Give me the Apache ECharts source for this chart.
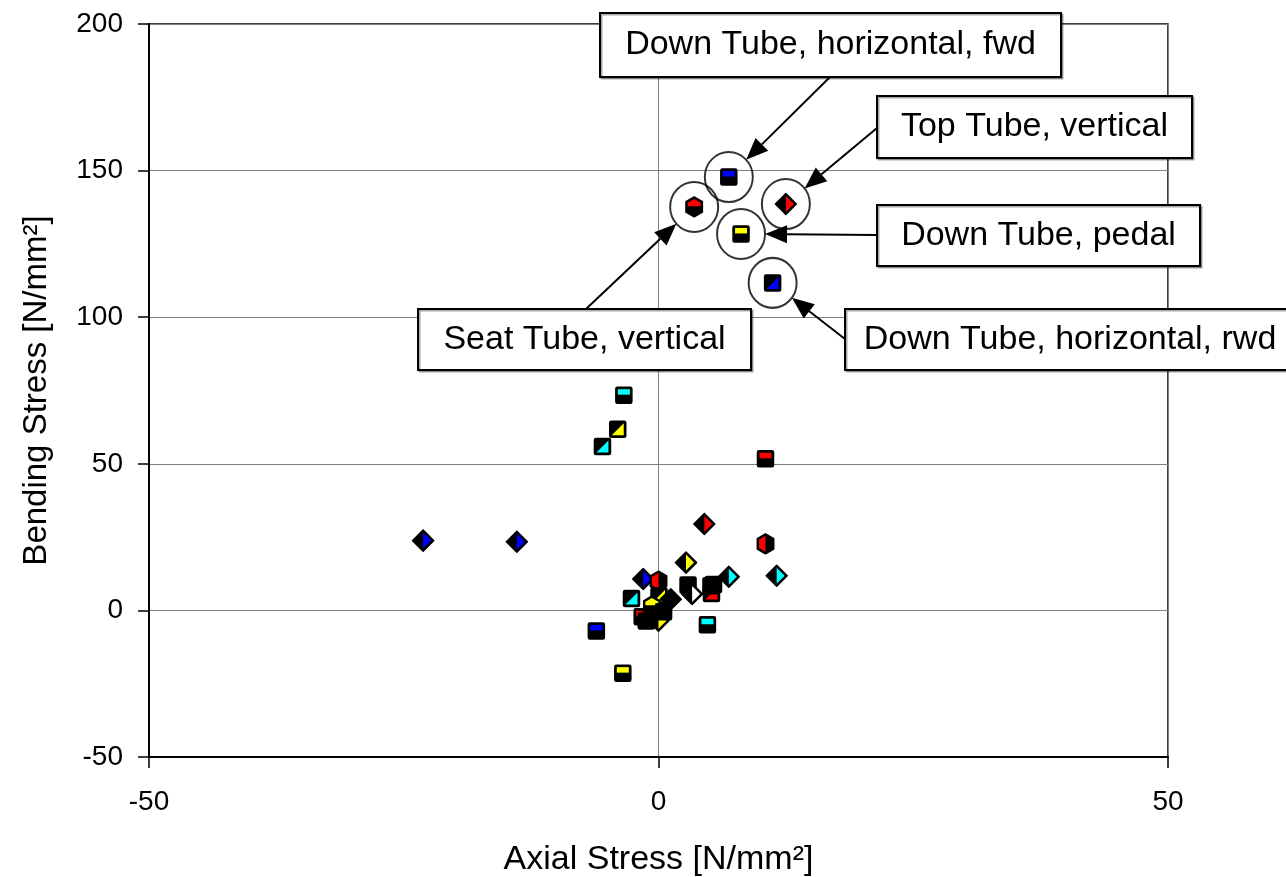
<!DOCTYPE html>
<html>
<head>
<meta charset="utf-8">
<script src="https://cdn.jsdelivr.net/npm/echarts@6/dist/echarts.min.js"></script>
<style>
  html, body { margin: 0; padding: 0; background: #ffffff; }
  #chart { width: 1286px; height: 877px; }
</style>
</head>
<body>
<div id="chart"></div>
<script>
// Strain gauge positions; each one has its own marker shape
const gaugeNames = ['Down Tube A', 'Down Tube B', 'Top Tube', 'Seat Tube A', 'Seat Tube B'];

// Measured stresses per load case: [axial N/mm², bending N/mm², gauge index]
const horizontalLoad = [
  [6.9, 147.8, 0], [11.2, 111.7, 1], [-23.1, 23.8, 2], [-13.9, 23.4, 2],
  [-1.5, 10.7, 2], [-6.1, -7.0, 0], [5.4, 8.8, 1]
];
const verticalLoad = [
  [3.5, 137.6, 3], [12.5, 138.6, 2], [10.5, 51.7, 0], [4.5, 29.5, 2],
  [10.5, 22.7, 4], [0.0, 10.0, 4], [5.2, 5.8, 1], [-1.6, -2.2, 0]
];
const pedalLoad = [
  [8.1, 128.4, 0], [-4.0, 61.8, 1], [2.7, 16.3, 2], [-3.5, -21.4, 0],
  [0.05, 4.9, 1], [-0.65, 1.5, 3], [0.0, -3.5, 2]
];
const lateralLoad = [
  [-3.4, 73.4, 0], [-5.5, 55.9, 1], [6.9, 11.5, 2], [11.6, 11.8, 2],
  [-2.65, 4.1, 1], [4.8, -4.9, 0]
];
const brakeLoad = [
  [2.9, 8.7, 0], [1.2, 3.8, 2], [5.15, 8.4, 0], [0.5, -0.5, 0], [-1.2, -3.6, 0]
];
const torsionLoad = [
  [3.3, 5.6, 2]
];

// Tick values on both axes
const axialTicks = [-50, 0, 50];
const bendingTicks = [-50, 0, 50, 100, 150, 200];

// Highlighted measurements with their callout text
const calloutTexts = [
  'Down Tube, horizontal, fwd',
  'Top Tube, vertical',
  'Down Tube, pedal',
  'Down Tube, horizontal, rwd',
  'Seat Tube, vertical'
];
const calloutPoints = [
  horizontalLoad[0],
  verticalLoad[1],
  pedalLoad[0],
  horizontalLoad[1],
  verticalLoad[0]
];

// ---- drawing -------------------------------------------------------------
const FONT = '"Liberation Sans", Arial, sans-serif';

const squareBase = {
  type: 'rect', shape: { x: -8, y: -8, width: 16, height: 16, r: 1.5 },
  style: { fill: '#000', stroke: '#000', lineWidth: 1.5 }
};
const diamondBase = {
  type: 'polygon', shape: { points: [[0, -10.5], [10.5, 0], [0, 10.5], [-10.5, 0]] },
  style: { fill: '#000', stroke: '#000', lineWidth: 1.5, lineJoin: 'round' }
};
const hexBase = {
  type: 'polygon', shape: { points: [[0, -10], [8.2, -5.2], [8.2, 5.2], [0, 10], [-8.2, 5.2], [-8.2, -5.2]] },
  style: { fill: '#000', stroke: '#000', lineWidth: 1.5, lineJoin: 'round' }
};

function markerParts(gauge, colour) {
  const fill = { fill: colour };
  switch (gauge) {
    case 0: return [squareBase, { type: 'rect', shape: { x: -6, y: -6, width: 12, height: 5.5 }, style: fill }];
    case 1: return [squareBase, { type: 'polygon', shape: { points: [[6, -6], [6, 6], [-6, 6]] }, style: fill }];
    case 2: return [diamondBase, { type: 'polygon', shape: { points: [[0, -8], [8, 0], [0, 8]] }, style: fill }];
    case 3: return [hexBase, { type: 'polygon', shape: { points: [[0, -8], [6.5, -4.2], [6.5, -0.8], [-6.5, -0.8], [-6.5, -4.2]] }, style: fill }];
    default: return [hexBase, { type: 'polygon', shape: { points: [[0, -8], [-6.5, -4.2], [-6.5, 4.2], [0, 8]] }, style: fill }];
  }
}

function loadSeries(name, data, colour) {
  return {
    name: name,
    type: 'custom',
    data: data,
    encode: { x: 0, y: 1 },
    renderItem: function (params, api) {
      const p = api.coord([api.value(0), api.value(1)]);
      return { type: 'group', x: p[0], y: p[1], children: markerParts(api.value(2), colour) };
    },
    z: 3
  };
}

const chart = echarts.init(document.getElementById('chart'), null, { renderer: 'canvas' });

const axisText = { color: '#000', fontFamily: FONT, fontSize: 28 };

chart.setOption({
  backgroundColor: '#ffffff',
  animation: false,
  grid: {
    left: 149, right: 118, top: 24, bottom: 120,
    containLabel: false, outerBoundsMode: 'none',
    show: true, borderColor: '#000', borderWidth: 1.5, backgroundColor: 'transparent'
  },
  xAxis: {
    type: 'value', min: axialTicks[0], max: axialTicks[axialTicks.length - 1], interval: 50,
    name: 'Axial Stress [N/mm²]', nameLocation: 'middle', nameGap: 86,
    nameTextStyle: { color: '#000', fontFamily: FONT, fontSize: 34 },
    axisLine: { onZero: false, lineStyle: { color: '#000', width: 2 } },
    axisTick: { show: true, inside: false, length: 11, lineStyle: { color: '#000', width: 1.5 } },
    axisLabel: Object.assign({ margin: 31 }, axisText),
    splitLine: { show: true, lineStyle: { color: '#808080', width: 1 } }
  },
  yAxis: {
    type: 'value', min: bendingTicks[0], max: bendingTicks[bendingTicks.length - 1], interval: 50,
    name: 'Bending Stress [N/mm²]', nameLocation: 'middle', nameGap: 96,
    nameTextStyle: { color: '#000', fontFamily: FONT, fontSize: 33 },
    axisLine: { onZero: false, lineStyle: { color: '#000', width: 2 } },
    axisTick: { show: true, inside: false, length: 11, lineStyle: { color: '#000', width: 1.5 } },
    axisLabel: Object.assign({ margin: 26 }, axisText),
    splitLine: { show: true, lineStyle: { color: '#808080', width: 1 } }
  },
  series: [
    loadSeries('Lateral', lateralLoad, '#00ffff'),
    loadSeries('Horizontal', horizontalLoad, '#0000ff'),
    loadSeries('Vertical', verticalLoad, '#ff0000'),
    loadSeries('Pedal', pedalLoad, '#ffff00'),
    loadSeries('Brake', brakeLoad, '#000000'),
    loadSeries('Torsion', torsionLoad, '#ffffff'),
    {
      name: 'Highlighted',
      type: 'scatter',
      data: calloutPoints.map(function (d) { return [d[0], d[1]]; }),
      symbol: 'circle',
      symbolSize: [48, 50],
      itemStyle: { color: 'rgba(0,0,0,0)', borderColor: '#000', borderWidth: 2 },
      silent: true,
      z: 4
    }
  ]
});

// Callout boxes and arrows; the arrow tips sit on the highlight rings
const calloutBoxes = [
  { x: 600, y: 13, w: 461, h: 64, from: [830, 77] },
  { x: 877, y: 96, w: 315, h: 62, from: [877, 128] },
  { x: 877, y: 205, w: 323, h: 61, from: [877, 235] },
  { x: 845, y: 309, w: 450, h: 61, from: [845, 339] },
  { x: 418, y: 309, w: 333, h: 61, from: [586, 309] }
];

const graphics = [];
calloutBoxes.forEach(function (box, i) {
  const c = chart.convertToPixel({ gridIndex: 0 }, [calloutPoints[i][0], calloutPoints[i][1]]);
  const dx = box.from[0] - c[0], dy = box.from[1] - c[1];
  const len = Math.sqrt(dx * dx + dy * dy);
  const ux = dx / len, uy = dy / len;
  // tip on the ellipse edge (rx 24, ry 25)
  const t = 1 / Math.sqrt((ux * ux) / (24 * 24) + (uy * uy) / (25 * 25));
  const tip = [c[0] + ux * t, c[1] + uy * t];
  const headLen = 22, headHalf = 9;
  const base = [tip[0] + ux * headLen, tip[1] + uy * headLen];
  graphics.push({
    type: 'line', z: 10,
    shape: { x1: box.from[0], y1: box.from[1], x2: base[0], y2: base[1] },
    style: { stroke: '#000', lineWidth: 2 }
  });
  graphics.push({
    type: 'polygon', z: 10,
    shape: { points: [tip, [base[0] - uy * headHalf, base[1] + ux * headHalf], [base[0] + uy * headHalf, base[1] - ux * headHalf]] },
    style: { fill: '#000' }
  });
  graphics.push({
    type: 'rect', z: 11,
    shape: { x: box.x, y: box.y, width: box.w, height: box.h },
    style: {
      fill: '#fff', stroke: '#000', lineWidth: 2,
      shadowColor: 'rgba(0,0,0,0.35)', shadowOffsetX: 1.5, shadowOffsetY: 1.5, shadowBlur: 0
    }
  });
  graphics.push({
    type: 'text', z: 12,
    x: box.x + box.w / 2, y: box.y + box.h / 2,
    style: {
      text: calloutTexts[i], fill: '#000', font: '34px ' + FONT,
      align: 'center', verticalAlign: 'middle'
    }
  });
});

chart.setOption({ graphic: { elements: graphics } });
</script>
</body>
</html>
